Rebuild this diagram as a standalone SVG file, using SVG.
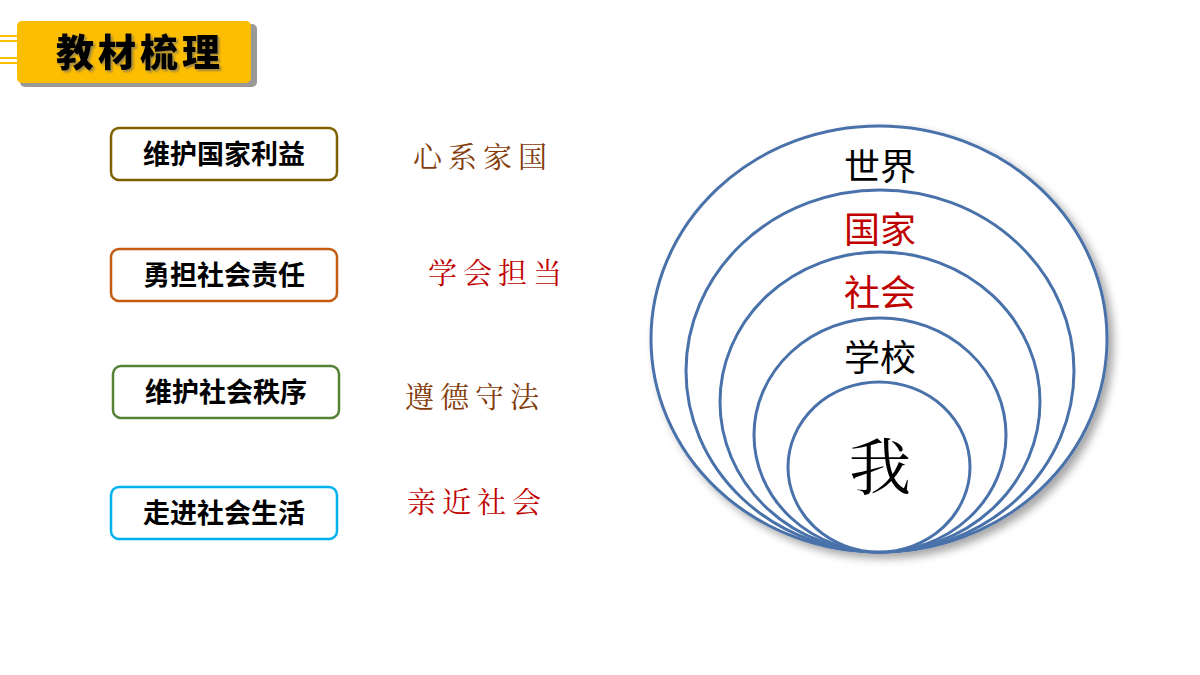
<svg xmlns="http://www.w3.org/2000/svg" width="1200" height="675" viewBox="0 0 1200 675">
<defs>
<filter id="sh" x="-10%" y="-10%" width="130%" height="130%"><feDropShadow dx="5" dy="5" stdDeviation="4" flood-color="#000" flood-opacity="0.35"/></filter>
<filter id="ts" x="-10%" y="-10%" width="130%" height="130%"><feDropShadow dx="2" dy="2" stdDeviation="1" flood-color="#666" flood-opacity="0.6"/></filter>
</defs>
<style>
.box{fill:#fff;stroke-width:2.5}
.bt{font-family:"Noto Sans CJK SC",sans-serif;font-weight:bold;font-size:27px;fill:#000;text-anchor:middle}
.st{font-family:"Noto Serif CJK SC","Noto Sans CJK SC",serif;font-size:29px;letter-spacing:6px}
.ring{fill:#fff;stroke:#4a72aa;stroke-width:3}
.rt{font-family:"Noto Sans CJK SC",sans-serif;font-size:36px;text-anchor:middle}
</style>
<rect width="1200" height="675" fill="#fff"/>
<g id="title">
<rect x="17" y="21" width="237" height="63" rx="5" fill="#999" transform="translate(3,3)"/>
<rect x="17" y="21" width="234" height="62" rx="5" fill="#fdbd00"/>
<path d="M0 36H30M0 41H30M0 58H30M0 63H30" stroke="#fdbd00" stroke-width="2"/>
<text x="140" y="66" font-family="Noto Sans CJK SC,sans-serif" font-weight="900" font-size="38" text-anchor="middle" letter-spacing="4" filter="url(#ts)">教材梳理</text>
</g>
<g id="n1"><rect class="box" x="111" y="128" width="226" height="52" rx="8" stroke="#7f6000"/><text class="bt" x="224" y="164">维护国家利益</text></g>
<g id="n2"><rect class="box" x="111" y="249" width="226" height="52" rx="8" stroke="#c55a11"/><text class="bt" x="224" y="285">勇担社会责任</text></g>
<g id="n3"><rect class="box" x="113" y="366" width="226" height="52" rx="8" stroke="#548235"/><text class="bt" x="226" y="402">维护社会秩序</text></g>
<g id="n4"><rect class="box" x="111" y="487" width="226" height="52" rx="8" stroke="#00b0f0"/><text class="bt" x="224" y="523">走进社会生活</text></g>
<text class="st" x="413" y="168" fill="#843c0c">心系家国</text>
<text class="st" x="428" y="284" fill="#c00000">学会担当</text>
<text class="st" x="405" y="408" fill="#843c0c">遵德守法</text>
<text class="st" x="407" y="513" fill="#c00000">亲近社会</text>
<g id="circles">
<ellipse class="ring" cx="879" cy="339" rx="228" ry="213" filter="url(#sh)"/>
<ellipse class="ring" cx="880" cy="371" rx="194" ry="181"/>
<ellipse class="ring" cx="880" cy="402" rx="160" ry="150"/>
<ellipse class="ring" cx="880" cy="435" rx="126" ry="117"/>
<ellipse class="ring" cx="879" cy="467" rx="91" ry="85"/>
<text class="rt" x="880" y="180" fill="#000">世界</text>
<text class="rt" x="880" y="243" fill="#c00000">国家</text>
<text class="rt" x="880" y="306" fill="#c00000">社会</text>
<text class="rt" x="880" y="371" fill="#000">学校</text>
<text x="880" y="490" font-family="Noto Serif CJK SC,Noto Sans CJK SC,serif" font-size="62" text-anchor="middle">我</text>
</g>
</svg>
